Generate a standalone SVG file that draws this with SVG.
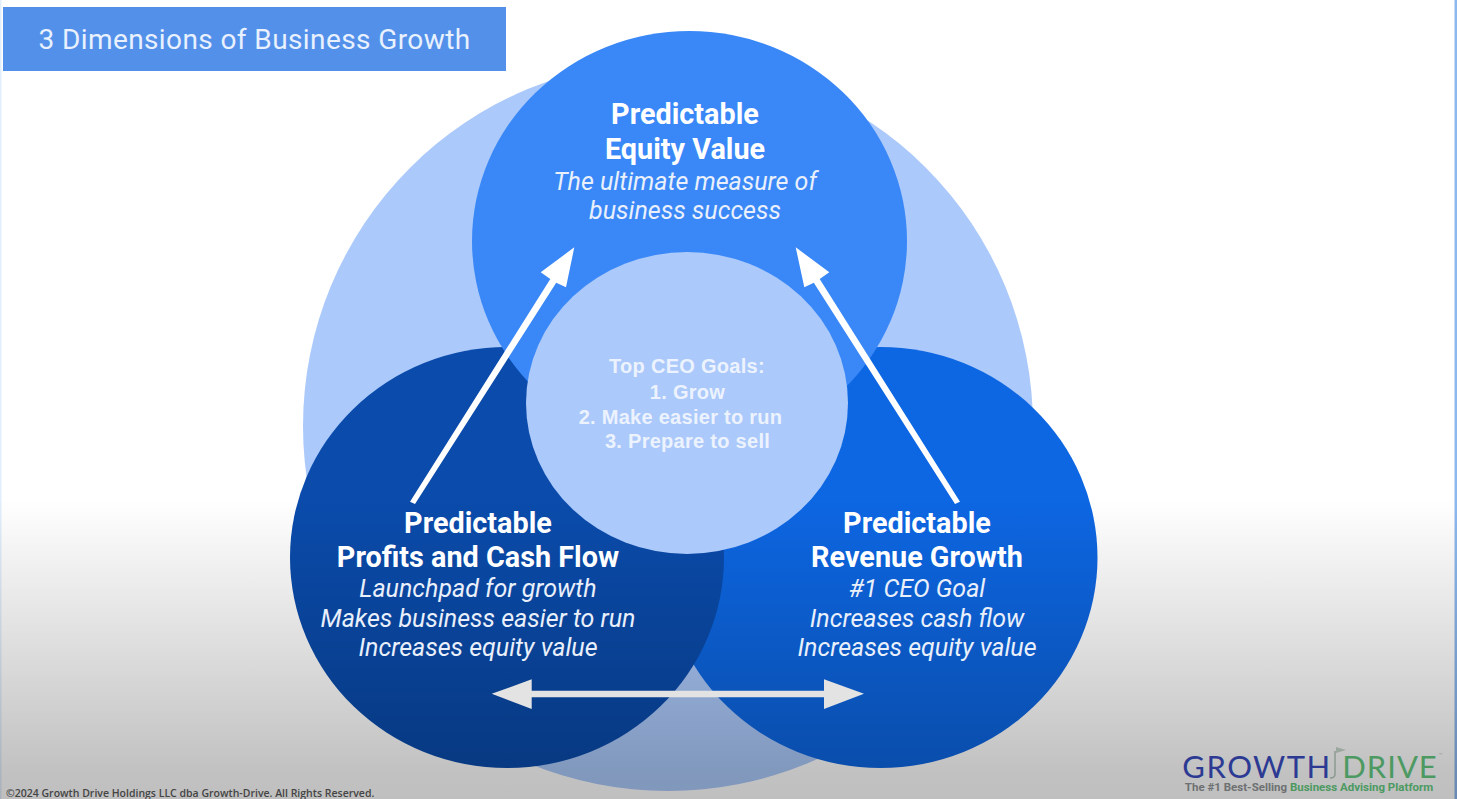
<svg xmlns="http://www.w3.org/2000/svg" width="1457" height="799" viewBox="0 0 1457 799">
<style>
text{font-family:Roboto,"Liberation Sans",sans-serif;fill:#fff;text-anchor:middle}
.h{font-size:28.800px;font-weight:700}
.s{font-size:25px;font-style:italic;fill:#e9f0fb}
.c{font-family:"Liberation Sans",Arial,sans-serif;font-size:20px;font-weight:700;fill:#edf3fe;letter-spacing:.28px}
.logo{font-family:Lato,sans-serif;font-size:31px}
</style>
<defs>
<linearGradient id="shade" gradientUnits="userSpaceOnUse" x1="0" y1="500" x2="0" y2="799">
<stop offset="0" stop-color="#000" stop-opacity="0"/>
<stop offset="0.9" stop-color="#000" stop-opacity="0.24"/>
<stop offset="1" stop-color="#000" stop-opacity="0.25"/>
</linearGradient>
</defs>
<rect id="background" width="1457" height="799" fill="#fff"/>
<rect x="0" y="0" width="1.500" height="799" fill="#e2eefb"/>
<rect x="1454.500" y="0" width="2.500" height="799" fill="#8db8ee"/>
<g id="outer-circle"><circle cx="668" cy="426" r="365" fill="#abc9fa"/></g>
<g id="revenue-circle"><ellipse cx="880.500" cy="557.500" rx="217" ry="210.500" fill="#0d66e2"/></g>
<g id="profits-circle"><ellipse cx="507" cy="557.500" rx="217" ry="210.500" fill="#0a4bab"/></g>
<g id="equity-circle"><ellipse cx="689.500" cy="241" rx="217.500" ry="210" fill="#3a88f8"/></g>
<rect id="shade-overlay" y="500" width="1457" height="299" fill="url(#shade)"/>
<g id="center-circle"><ellipse cx="687" cy="403" rx="161" ry="151" fill="#abc9fa"/></g>
<g id="connectors">
<path fill="#fff" d="M410 501.700L550.300 279L540.700 272.300L574.300 247.300L566 287.300L556.200 282.800L415 504Z"/>
<path fill="#fff" d="M955 504L813.800 282.800L804.300 287.300L795.700 247.300L829.300 272.300L819.700 279L960 501.700Z"/>
<path fill="#e3e3e3" d="M491.700 693.800L531.700 679.300V690.700H824V679.300L864 693.800L824 709V697.300H531.700V709Z"/>
</g>
<g id="equity-label">
<text class="h" x="685" y="124">Predictable</text>
<text class="h" x="685" y="159">Equity Value</text>
<text class="s" x="685" y="189.500">The ultimate measure of</text>
<text class="s" x="685" y="219">business success</text>
</g>
<g id="center-label">
<text class="c" x="687" y="373">Top CEO Goals:</text>
<text class="c" x="687.500" y="399">1. Grow</text>
<text class="c" x="680.500" y="424">2. Make easier to run</text>
<text class="c" x="687.500" y="448">3. Prepare to sell</text>
</g>
<g id="profits-label">
<text class="h" x="478" y="533">Predictable</text>
<text class="h" x="478" y="567">Profits and Cash Flow</text>
<text class="s" x="478" y="597">Launchpad for growth</text>
<text class="s" x="478" y="627">Makes business easier to run</text>
<text class="s" x="478" y="656">Increases equity value</text>
</g>
<g id="revenue-label">
<text class="h" x="917" y="533">Predictable</text>
<text class="h" x="917" y="567">Revenue Growth</text>
<text class="s" x="917" y="597">#1 CEO Goal</text>
<text class="s" x="917" y="627">Increases cash flow</text>
<text class="s" x="917" y="656">Increases equity value</text>
</g>
<g id="title">
<rect x="3" y="7" width="503" height="64" fill="#5290ea"/>
<text x="254.500" y="49" font-size="28" style="fill:#e8f1fd;letter-spacing:.4px">3 Dimensions of Business Growth</text>
</g>
<g id="logo">
<text class="logo" x="1257" y="778" style="fill:#2c3a94;letter-spacing:1.500px">GROWTH</text>
<path d="M1330 778Q1335 778 1335 774V751" fill="none" stroke="#8a9a90" stroke-width="1.500"/>
<path d="M1336 747L1346 750L1336 753Z" fill="#9aa89e"/>
<text class="logo" x="1390" y="778" style="fill:#4c9a62;letter-spacing:1px">DRIVE</text>
<text x="1441" y="757" style="font-size:6px;fill:#9a9a9a">™</text>
<text x="1309" y="791" style="font-size:11.500px;font-weight:700;fill:#6e7072"><tspan>The #1 Best-Selling </tspan><tspan style="fill:#4c9a62">Business Advising Platform</tspan></text>
</g>
<text id="copyright" x="6" y="797" style="text-anchor:start;font-family:'Open Sans',sans-serif;font-size:10.500px;font-weight:600;fill:#444">©2024 Growth Drive Holdings LLC dba Growth-Drive. All Rights Reserved.</text>
</svg>
